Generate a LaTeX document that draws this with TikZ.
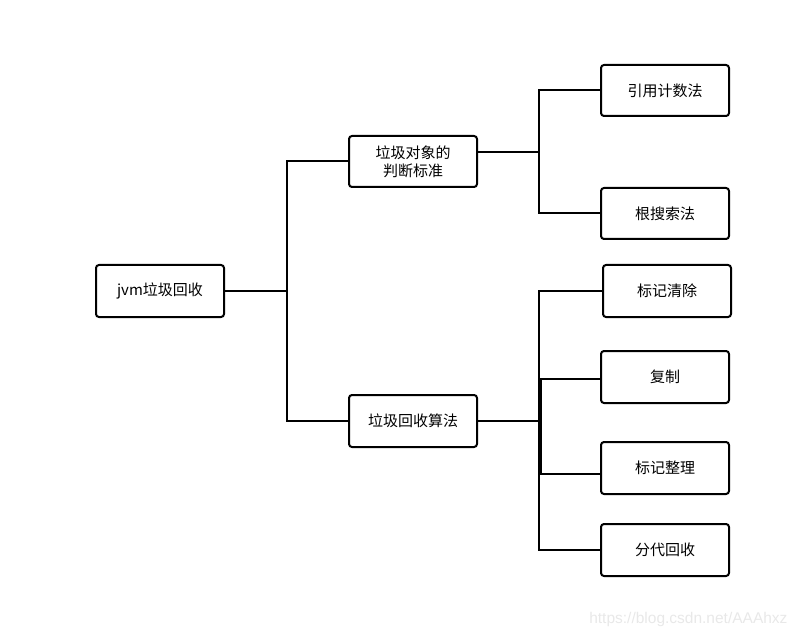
\documentclass[tikz,border=0pt]{standalone}
\usepackage{fontspec}
\setmainfont{Noto Sans CJK SC}
\newfontfamily\wmfont{Liberation Sans}
\begin{document}
\begin{tikzpicture}[x=1pt,y=-1pt,
  box/.style={draw=black,line width=2pt,rounded corners=3pt,fill=white,
    minimum width=128pt,minimum height=52pt,inner sep=0pt,align=center,
    font=\fontsize{15}{18}\selectfont},
  link/.style={draw=black,line width=2pt}]
\useasboundingbox (0,0) rectangle (800,636);
\node[box] (jvm) at (160,291) {jvm垃圾回收};
\node[box,minimum height=51pt] (std) at (413,161.5) {垃圾对象的\\判断标准};
\node[box] (alg) at (413,421) {垃圾回收算法};
\node[box,minimum height=51pt] (ref) at (665,90.5) {引用计数法};
\node[box,minimum height=51pt] (root) at (665,213.5) {根搜索法};
\node[box] (mark) at (667,291) {标记清除};
\node[box] (copy) at (665,377) {复制};
\node[box] (comp) at (665,468) {标记整理};
\node[box] (gen) at (665,550) {分代回收};
\coordinate (b1) at (287,0);
\coordinate (b2) at (539,0);
\coordinate (b3) at (541,0);
\draw[link] (jvm.east) -- (jvm.east -| b1) |- (std.west);
\draw[link] (jvm.east) -- (jvm.east -| b1) |- (alg.west);
\draw[link] ([yshift=9pt]std.east) -- ([yshift=9pt]std.east -| b2) |- (ref.west);
\draw[link] ([yshift=9pt]std.east) -- ([yshift=9pt]std.east -| b2) |- (root.west);
\draw[link] (alg.east) -- (alg.east -| b2) |- (mark.west);
\draw[link] (alg.east) -- (alg.east -| b3) |- ([yshift=-2pt]copy.west);
\draw[link] (alg.east) -- (alg.east -| b3) |- ([yshift=-6pt]comp.west);
\draw[link] (alg.east) -- (alg.east -| b2) |- (gen.west);
\node[text=black!9,font=\wmfont\fontsize{15.5}{18}\selectfont,anchor=east] (wm) at (791,619) {https://blog.csdn.net/AAAhxz};
\end{tikzpicture}
\end{document}
